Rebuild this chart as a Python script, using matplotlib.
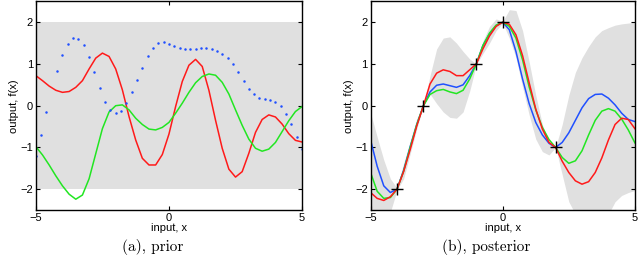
import numpy as np
import matplotlib
matplotlib.use('Agg')
import matplotlib.pyplot as plt

''' values read off the reference picture '''

grid = np.arange(-5, 5.01, 0.25)   # common x positions for the sample paths

# (a) prior: two sample paths and a dotted one, band is +-2
prior_red = [0.72, 0.60, 0.47, 0.37, 0.32, 0.34, 0.44, 0.60, 0.88, 1.14, 1.26,
             1.18, 0.88, 0.38, -0.26, -0.82, -1.26, -1.42, -1.42, -1.17, -0.68,
             -0.02, 0.58, 0.97, 1.11, 0.94, 0.37, -0.35, -1.02, -1.52, -1.71,
             -1.58, -1.14, -0.64, -0.33, -0.22, -0.27, -0.44, -0.67, -0.83, -0.87]
prior_green = [-0.98, -1.18, -1.42, -1.68, -1.92, -2.12, -2.24, -2.14, -1.75,
               -1.15, -0.55, -0.15, 0.0, 0.02, -0.10, -0.30, -0.45, -0.56,
               -0.58, -0.52, -0.40, -0.18, 0.06, 0.32, 0.55, 0.70, 0.76, 0.73,
               0.56, 0.28, -0.10, -0.47, -0.80, -1.02, -1.09, -1.04, -0.88,
               -0.62, -0.36, -0.14, -0.02]
prior_dots_x = [-5.0, -4.8, -4.6, -4.2, -4.0, -3.8, -3.6, -3.4, -3.2, -3.0,
                -2.8, -2.6, -2.4, -2.2, -2.0, -1.8, -1.6, -1.4, -1.2, -1.0,
                -0.8, -0.6, -0.4, -0.2, 0.0, 0.2, 0.4, 0.6, 0.8, 1.0, 1.2,
                1.4, 1.6, 1.8, 2.0, 2.2, 2.4, 2.6, 2.8, 3.0, 3.2, 3.4, 3.6,
                3.8, 4.0, 4.2, 4.4, 4.6, 4.8, 5.0]
prior_dots_y = [-1.20, -0.70, -0.16, 0.83, 1.21, 1.47, 1.62, 1.60, 1.46, 1.16,
                0.80, 0.42, 0.10, -0.10, -0.18, -0.12, 0.06, 0.32, 0.62, 0.91,
                1.19, 1.38, 1.50, 1.53, 1.49, 1.43, 1.38, 1.35, 1.35, 1.37,
                1.39, 1.39, 1.37, 1.32, 1.24, 1.14, 0.99, 0.80, 0.59, 0.41,
                0.28, 0.19, 0.15, 0.14, 0.10, -0.01, -0.20, -0.45, -0.74, -1.04]
prior_band = [-2, 2]

# (b) posterior: observations, band and three sample paths
obs_x = [-4, -3, -1, 0, 2]
obs_y = [-2, 0, 1, 2, -1]
post_hi = [-0.17, -0.75, -1.30, -1.75, -1.97, -1.38, -0.85, -0.30, 0.0, 0.72,
           1.36, 1.62, 1.65, 1.50, 1.30, 1.12, 1.0, 1.55, 1.90, 2.08, 2.02,
           2.30, 2.28, 1.80, 1.05, 0.25, -0.45, -0.85, -1.0, -0.45, 0.25,
           0.80, 1.15, 1.42, 1.65, 1.80, 1.87, 1.93, 1.96, 1.98, 2.0]
post_lo = [-2.9, -2.9, -2.8, -2.55, -2.02, -1.75, -1.15, -0.55, 0.0, 0.28,
           0.05, -0.15, -0.28, -0.30, -0.15, 0.35, 0.98, 1.25, 1.50, 1.80,
           1.98, 1.62, 1.15, 0.45, -0.22, -0.80, -1.10, -1.18, -1.0, -1.65,
           -2.3, -2.6, -2.8, -2.9, -2.9, -2.8, -2.6, -2.3, -2.15, -2.08, -2.03]
post_blue = [-0.82, -1.45, -1.92, -2.08, -2.0, -1.55, -0.98, -0.45, 0.0, 0.33,
             0.49, 0.52, 0.48, 0.44, 0.50, 0.72, 1.0, 1.44, 1.72, 1.92, 2.0,
             1.82, 1.30, 0.64, 0.05, -0.40, -0.70, -0.90, -1.0, -0.88, -0.65,
             -0.35, -0.05, 0.17, 0.27, 0.28, 0.18, 0.02, -0.18, -0.33, -0.38]
post_green = [-1.60, -2.05, -2.22, -2.20, -2.0, -1.57, -1.0, -0.45, 0.0, 0.27,
              0.36, 0.39, 0.33, 0.29, 0.37, 0.64, 1.0, 1.44, 1.74, 1.93, 2.0,
              1.90, 1.62, 1.10, 0.45, -0.10, -0.52, -0.81, -1.0, -1.24, -1.38,
              -1.32, -1.08, -0.70, -0.35, -0.13, -0.07, -0.13, -0.32, -0.58, -0.89]
post_red = [-2.08, -2.22, -2.27, -2.18, -2.0, -1.58, -1.05, -0.48, 0.0, 0.52,
            0.78, 0.86, 0.82, 0.72, 0.72, 0.86, 1.0, 1.36, 1.67, 1.90, 2.0,
            1.95, 1.70, 1.20, 0.55, -0.08, -0.56, -0.88, -1.0, -1.33, -1.60,
            -1.80, -1.88, -1.82, -1.60, -1.25, -0.82, -0.45, -0.30, -0.33, -0.55]

xticks = [-5, 0, 5]
yticks = [-2, -1, 0, 1, 2]

RED = '#ff1a1a'
GREEN = '#22e622'
BLUE = '#2050ff'
GRAY = '#e0e0e0'

plt.rcParams['font.family'] = ['Liberation Sans', 'DejaVu Sans']


def style_axes(ax):
    ax.set_xlim(-5, 5)
    ax.set_ylim(-2.5, 2.5)
    ax.set_xticks(xticks)
    ax.set_yticks(yticks)
    ax.tick_params(direction='in', length=3, width=0.8, labelsize=8,
                   top=True, right=True, pad=2)
    for s in ax.spines.values():
        s.set_linewidth(1.0)
    ax.set_xlabel('input, x', fontsize=8, labelpad=0)
    ax.set_ylabel('output, f(x)', fontsize=8, labelpad=1)


fig = plt.figure(figsize=(6.4, 2.7), dpi=100)

ax1 = fig.add_axes([0.056, 0.222, 0.416, 0.773])
ax1.fill_between([-5, 5], prior_band[0], prior_band[1], color=GRAY, lw=0)
ax1.plot(grid, prior_red, color=RED, lw=1.1)
ax1.plot(grid, prior_green, color=GREEN, lw=1.1)
ax1.plot(prior_dots_x, prior_dots_y, 'o', color=BLUE, ms=1.8, mew=0)
style_axes(ax1)

ax2 = fig.add_axes([0.579, 0.222, 0.413, 0.773])
ax2.fill_between(grid, post_lo, post_hi, color=GRAY, lw=0)
ax2.plot(grid, post_blue, color=BLUE, lw=1.1)
ax2.plot(grid, post_green, color=GREEN, lw=1.1)
ax2.plot(grid, post_red, color=RED, lw=1.1)
ax2.plot(obs_x, obs_y, '+', color='black', ms=8, mew=1.0)
style_axes(ax2)

fig.text(0.239, 0.085, '(a), prior', fontsize=11, family='cmr10',
         ha='center', va='center')
fig.text(0.760, 0.085, '(b), posterior', fontsize=11, family='cmr10',
         ha='center', va='center')

fig.savefig('out.png', dpi=100)
